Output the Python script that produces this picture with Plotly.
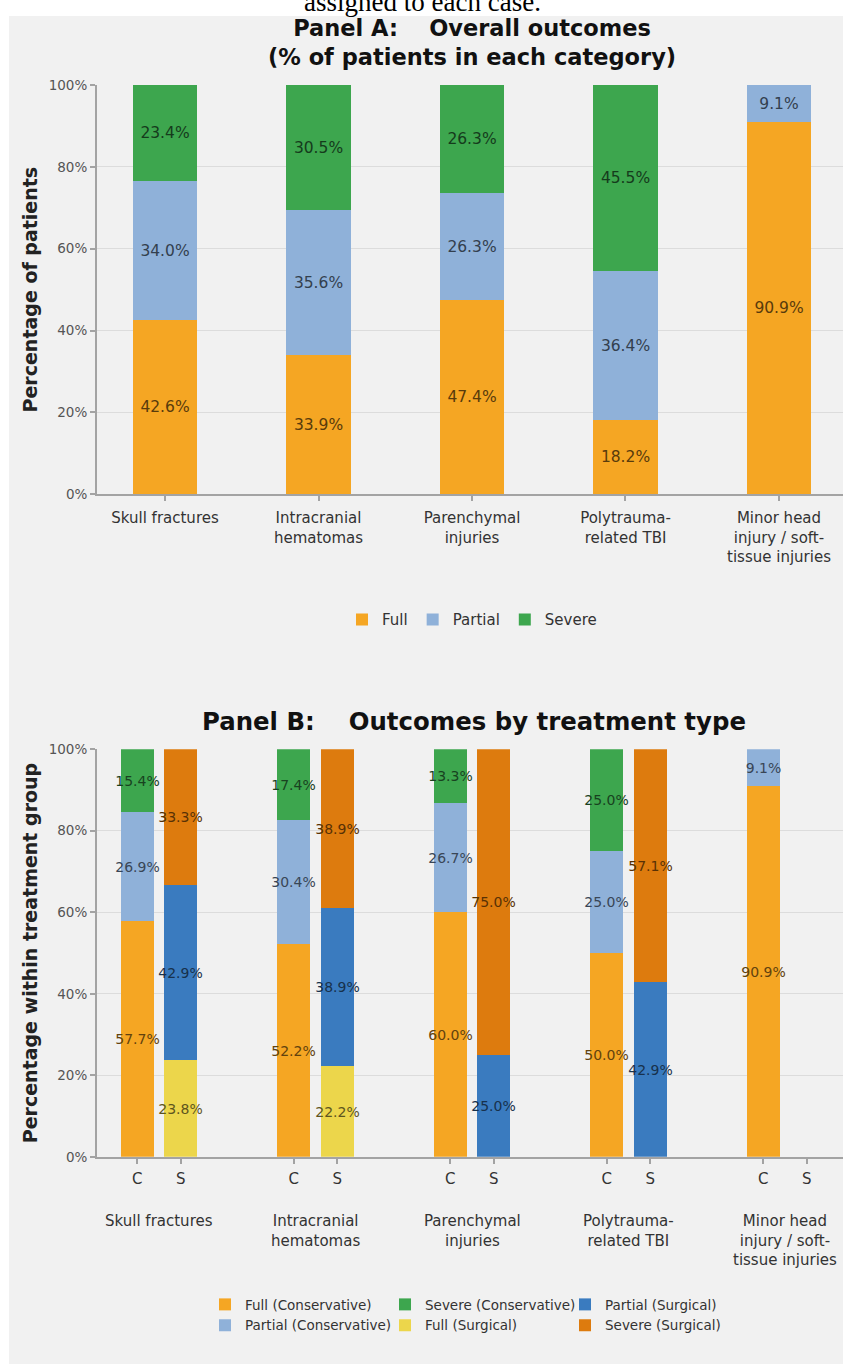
import plotly.graph_objects as go

# ---------------- data ----------------
categories = ["Skull fractures", "Intracranial hematomas", "Parenchymal injuries",
              "Polytrauma-related TBI", "Minor head injury / soft-tissue injuries"]
category_ticktext = ["Skull fractures", "Intracranial<br>hematomas", "Parenchymal<br>injuries",
                     "Polytrauma-<br>related TBI", "Minor head<br>injury / soft-<br>tissue injuries"]

outcomes = ["Full", "Partial", "Severe"]
overall_full = [42.6, 33.9, 47.4, 18.2, 90.9]
overall_partial = [34.0, 35.6, 26.3, 36.4, 9.1]
overall_severe = [23.4, 30.5, 26.3, 45.5, 0.0]

treatments = ["Conservative", "Surgical"]
treatment_ticks = ["C", "S"]
cons_full = [57.7, 52.2, 60.0, 50.0, 90.9]
cons_partial = [26.9, 30.4, 26.7, 25.0, 9.1]
cons_severe = [15.4, 17.4, 13.3, 25.0, 0.0]
surg_full = [23.8, 22.2, 0.0, 0.0, 0.0]
surg_partial = [42.9, 38.9, 25.0, 42.9, 0.0]
surg_severe = [33.3, 38.9, 75.0, 57.1, 0.0]

y_tickvals = [0, 20, 40, 60, 80, 100]
y_ticktext = ["0%", "20%", "40%", "60%", "80%", "100%"]

title_a = "Panel A:\u00a0\u00a0\u00a0\u00a0Overall outcomes<br>(% of patients in each category)"
title_b = "Panel B:\u00a0\u00a0\u00a0\u00a0Outcomes by treatment type"
caption = "assigned to each case."

# ---------------- style ----------------
W, H, L = 843, 1364, 97
FONT = "DejaVu Sans"
BG = "#f1f1f1"
AXIS = "#a3a3a3"
GRID = "#dcdcdc"
C_FULL = "#f5a623"
C_PARTIAL = "#8fb1d9"
C_SEVERE = "#3da64e"
C_FULL_S = "#ecd64b"
C_PARTIAL_S = "#3a7bbf"
C_SEVERE_S = "#dd7b0e"


def darken(hx, f=0.36):
    hx = hx.lstrip("#")
    r, g, b = (int(hx[i:i + 2], 16) for i in (0, 2, 4))
    return "rgb({},{},{})".format(int(r * f), int(g * f), int(b * f))


def py(p):  # pixel row -> paper y (margins are zero vertically)
    return 1 - p / H


def px(p):  # pixel column -> paper x
    return (p - L) / (W - L)


def clean(vals):
    return [v if v else None for v in vals]


def labels(vals):
    return ["{:.1f}%".format(v) if v else "" for v in vals]


fig = go.Figure()

# ---------------- Panel A ----------------
idx = list(range(len(categories)))
for name, vals, col in zip(outcomes, [overall_full, overall_partial, overall_severe],
                           [C_FULL, C_PARTIAL, C_SEVERE]):
    fig.add_trace(go.Bar(
        x=idx, y=clean(vals), name=name, marker=dict(color=col, line=dict(width=0)),
        width=0.417, text=labels(vals), textposition="inside", insidetextanchor="middle",
        textangle=0, constraintext="none",
        textfont=dict(family=FONT, size=15.5, color=darken(col)),
        xaxis="x", yaxis="y", legend="legend", hoverinfo="skip"))

# ---------------- Panel B ----------------
OFF = 0.139
xc = [i - OFF for i in idx]
xs = [i + OFF for i in idx]
panel_b = [
    ("Full (Conservative)", xc, cons_full, C_FULL, "legend2"),
    ("Partial (Conservative)", xc, cons_partial, C_PARTIAL, "legend3"),
    ("Severe (Conservative)", xc, cons_severe, C_SEVERE, "legend2"),
    ("Full (Surgical)", xs, surg_full, C_FULL_S, "legend3"),
    ("Partial (Surgical)", xs, surg_partial, C_PARTIAL_S, "legend2"),
    ("Severe (Surgical)", xs, surg_severe, C_SEVERE_S, "legend3"),
]
for name, xpos, vals, col, leg in panel_b:
    fig.add_trace(go.Bar(
        x=xpos, y=clean(vals), name=name, marker=dict(color=col, line=dict(width=0)),
        width=0.211, text=labels(vals), textposition="inside", insidetextanchor="middle",
        textangle=0, constraintext="none",
        textfont=dict(family=FONT, size=14, color=darken(col, 0.4)),
        xaxis="x2", yaxis="y2", legend=leg, hoverinfo="skip"))

tick_pos = sorted(xc + xs)
tick_txt = [treatment_ticks[0] if p in xc else treatment_ticks[1] for p in tick_pos]

yaxis_common = dict(range=[0, 100], tickvals=y_tickvals, ticktext=y_ticktext,
                    showgrid=True, gridcolor=GRID, gridwidth=1, zeroline=False,
                    showline=True, linecolor=AXIS, linewidth=2, ticks="outside",
                    ticklen=5, tickcolor=AXIS, tickwidth=1.5,
                    tickfont=dict(family=FONT, size=13.5, color="#555555"))
xaxis_common = dict(showgrid=False, zeroline=False, showline=True, linecolor=AXIS,
                    linewidth=2, ticks="outside", ticklen=5, tickcolor=AXIS, tickwidth=1.5)

fig.update_layout(
    width=W, height=H, autosize=False,
    margin=dict(l=L, r=0, t=0, b=0, pad=0),
    paper_bgcolor="white", plot_bgcolor=BG,
    barmode="stack", bargap=0,
    font=dict(family=FONT, color="#333333"),
    xaxis=dict(domain=[0, 1], anchor="y", range=[-0.443, 4.417], tickvals=idx,
               ticktext=category_ticktext, ticklabelstandoff=4,
               tickfont=dict(family=FONT, size=15, color="#333333"), **xaxis_common),
    yaxis=dict(domain=[py(492), py(78)], anchor="x",
               title=dict(text="<b>Percentage of patients</b>", standoff=6,
                          font=dict(family=FONT, size=19, color="#222222")),
               **yaxis_common),
    xaxis2=dict(domain=[0, 1], anchor="y2", range=[-0.396, 4.37], tickvals=tick_pos,
                ticktext=tick_txt, ticklabelstandoff=2,
                tickfont=dict(family=FONT, size=15, color="#333333"), **xaxis_common),
    yaxis2=dict(domain=[py(1162.5), py(750)], anchor="x2",
                title=dict(text="<b>Percentage within treatment group</b>", standoff=6,
                           font=dict(family=FONT, size=19, color="#222222")),
                **yaxis_common),
    legend=dict(orientation="h", x=px(472), xanchor="center", y=py(619), yanchor="middle",
                bgcolor="rgba(0,0,0,0)", traceorder="normal",
                font=dict(family=FONT, size=15, color="#333333")),
    legend2=dict(orientation="h", x=px(205), xanchor="left", y=py(1312), yanchor="middle",
                 bgcolor="rgba(0,0,0,0)", traceorder="normal", entrywidth=135,
                 font=dict(family=FONT, size=13.5, color="#333333")),
    legend3=dict(orientation="h", x=px(205), xanchor="left", y=py(1333), yanchor="middle",
                 bgcolor="rgba(0,0,0,0)", traceorder="normal", entrywidth=135,
                 font=dict(family=FONT, size=13.5, color="#333333")),
    showlegend=True,
)

# grey card behind the chart (page is white above / left of it)
fig.add_shape(type="rect", xref="paper", yref="paper", x0=px(9), x1=1.01, y0=-0.01, y1=py(8),
              fillcolor=BG, line=dict(width=0), layer="below")

# titles
fig.add_annotation(text="<b>" + title_a + "</b>", xref="paper", yref="paper",
                   x=px(472), y=py(35), xanchor="center", yanchor="middle", showarrow=False,
                   font=dict(family=FONT, size=22.5, color="#111111"))
fig.add_annotation(text="<b>" + title_b + "</b>", xref="paper", yref="paper",
                   x=px(474), y=py(722), xanchor="center", yanchor="middle", showarrow=False,
                   font=dict(family=FONT, size=24.4, color="#111111"))

# group labels for panel B
for i, lab in zip(idx, category_ticktext):
    fig.add_annotation(text=lab, xref="x2", yref="paper", x=i, y=py(1216), xanchor="center",
                       yanchor="top", showarrow=False,
                       font=dict(family=FONT, size=15, color="#333333"))

# clipped caption line from the page above (partly cut off, as in the reference)
fig.add_annotation(text=caption, xref="paper", yref="paper", x=px(422), y=py(11),
                   xanchor="center", yanchor="bottom", showarrow=False,
                   font=dict(family="Liberation Serif", size=27, color="#000000"))

fig.write_html("out.html", config={"displayModeBar": False},
               post_script="document.body.style.margin='0';")
